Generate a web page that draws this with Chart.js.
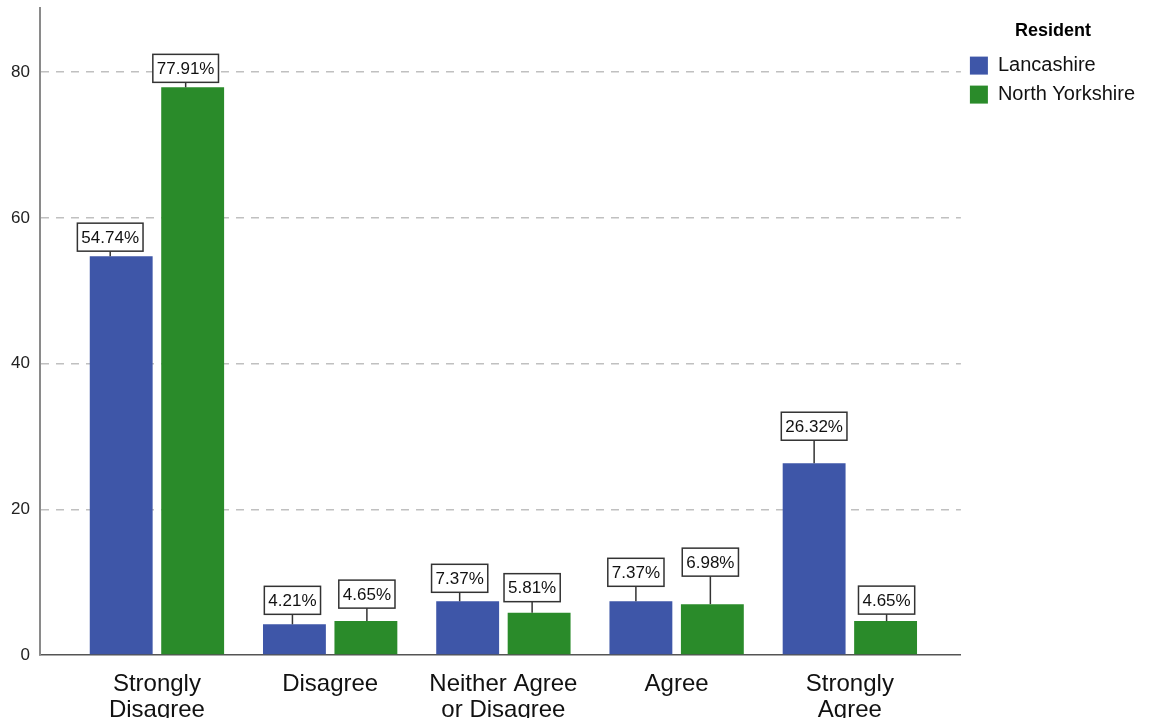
<!DOCTYPE html>
<html>
<head>
<script src="https://cdn.jsdelivr.net/npm/chart.js@4.4.0/dist/chart.umd.min.js"></script>
<style>
  body { margin: 0; background: #fff; }
</style>
</head>
<body>
<canvas id="chart" width="1152" height="718"></canvas>
<script>
const categories = [['Strongly', 'Disagree'], 'Disagree', ['Neither Agree', 'or Disagree'], 'Agree', ['Strongly', 'Agree']];
const lancashire = [54.74, 4.21, 7.37, 7.37, 26.32];
const northYorkshire = [77.91, 4.65, 5.81, 6.98, 4.65];
const yTicks = [0, 20, 40, 60, 80];

// where each value box sits, relative to its bar (px): sideways shift and gap above the bar
const boxShift = [[-11, -2, -8, -5, 0], [-7, 1, -7, -2, 1]];
const boxGap = [[5, 10, 9, 15, 23], [5, 13, 11, 28, 7]];

const FONT = '"Liberation Sans", Arial, sans-serif';

const boxLabels = {
  id: 'boxLabels',
  afterDatasetsDraw(chart) {
    const ctx = chart.ctx;
    ctx.save();
    ctx.font = '17px ' + FONT;
    ctx.textAlign = 'center';
    ctx.textBaseline = 'middle';
    chart.data.datasets.forEach((ds, di) => {
      chart.getDatasetMeta(di).data.forEach((bar, i) => {
        const txt = ds.data[i].y.toFixed(2) + '%';
        const w = ctx.measureText(txt).width + 8;
        const h = 28;
        const cx = bar.x + boxShift[di][i];
        const bottom = bar.y - boxGap[di][i];
        ctx.strokeStyle = '#333';
        ctx.lineWidth = 1.5;
        ctx.beginPath();
        ctx.moveTo(cx, bottom);
        ctx.lineTo(cx, bar.y);
        ctx.stroke();
        ctx.fillStyle = '#fff';
        ctx.fillRect(cx - w / 2, bottom - h, w, h);
        ctx.strokeRect(cx - w / 2, bottom - h, w, h);
        ctx.fillStyle = '#111';
        ctx.fillText(txt, cx, bottom - h / 2 + 1);
      });
    });
    ctx.restore();
  }
};

new Chart(document.getElementById('chart'), {
  type: 'bar',
  data: {
    datasets: [
      {
        label: 'Lancashire',
        data: lancashire.map((v, i) => ({ x: i, y: v })),
        backgroundColor: '#3e56a8'
      },
      {
        label: 'North Yorkshire',
        data: northYorkshire.map((v, i) => ({ x: i, y: v })),
        backgroundColor: '#2a8b2a'
      }
    ]
  },
  options: {
    responsive: false,
    animation: false,
    categoryPercentage: 0.825,
    barPercentage: 0.88,
    layout: { padding: { top: 8, right: 7 } },
    scales: {
      x: {
        type: 'linear',
        min: -0.675,
        max: 4.641,
        offset: false,
        grid: { display: false, drawTicks: false },
        border: { color: '#555', width: 1.5 },
        afterBuildTicks: s => { s.ticks = categories.map((c, i) => ({ value: i })); },
        afterFit: s => { s.height = 63; s.paddingLeft = 0; s.paddingRight = 0; },
        ticks: {
          autoSkip: false,
          maxRotation: 0,
          padding: 16,
          color: '#111',
          font: { family: FONT, size: 24, lineHeight: 1.083 },
          callback: v => categories[v]
        }
      },
      y: {
        min: 0,
        max: 88.8,
        afterBuildTicks: s => { s.ticks = yTicks.map(v => ({ value: v })); },
        afterFit: s => { s.width = 40; s.paddingTop = 0; s.paddingBottom = 0; },
        grid: {
          drawTicks: false,
          color: c => c.tick && c.tick.value === 0 ? 'rgba(0,0,0,0)' : '#c0c0c0',
          lineWidth: 1.5
        },
        border: { color: '#8a8a8a', width: 2, dash: [8, 7] },
        ticks: {
          padding: 10,
          color: '#222',
          font: { family: FONT, size: 17 }
        }
      }
    },
    plugins: {
      tooltip: { enabled: false },
      legend: {
        position: 'right',
        align: 'start',
        title: {
          display: true,
          text: 'Resident',
          color: '#000',
          font: { family: FONT, size: 18, weight: 'bold' },
          padding: { top: 14, bottom: 3 }
        },
        labels: {
          boxWidth: 18,
          boxHeight: 18,
          padding: 9,
          color: '#111',
          font: { family: FONT, size: 20 }
        }
      }
    }
  },
  plugins: [boxLabels]
});
</script>
</body>
</html>
